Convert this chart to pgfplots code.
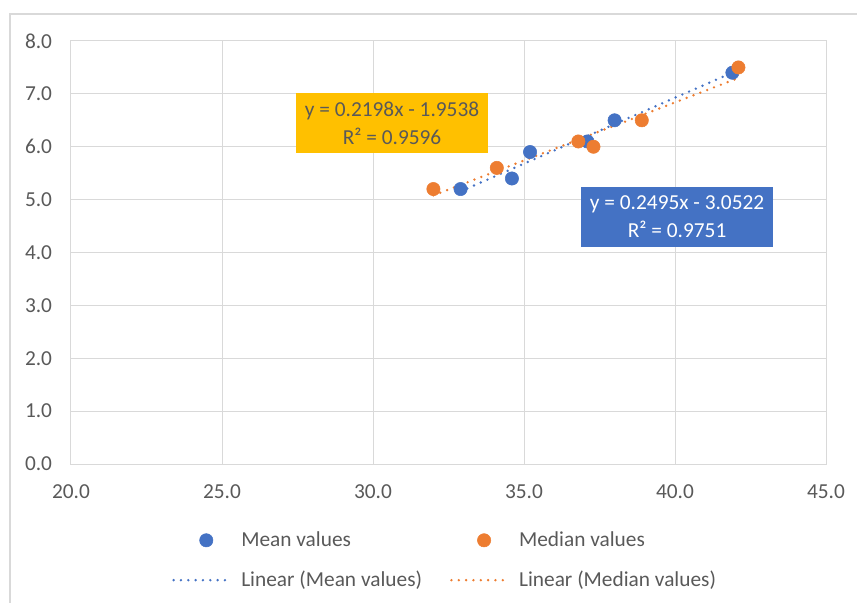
\documentclass[border=0pt]{standalone}
\usepackage{fontspec}
\setmainfont{Carlito}
\usepackage{pgfplots}
\usepackage{pgfplotstable}
\pgfplotsset{compat=1.18}
\definecolor{mblue}{HTML}{4472C4}
\definecolor{morange}{HTML}{ED7D31}
\definecolor{gridc}{HTML}{D9D9D9}
\definecolor{txt}{HTML}{595959}
\definecolor{boxy}{HTML}{FFC000}

\pgfplotsset{
  scatleg/.style={legend image code/.code={\draw[mark repeat=2,mark phase=2,##1] plot coordinates {(0pt,0pt) (25.5pt,0pt) (42.75pt,0pt)};}},
  lineleg/.style={legend image code/.code={\draw[##1] (1pt,0pt) -- (42.75pt,0pt);}},
  trend/.style={no marks, line width=2pt, line cap=round, dash pattern=on 0pt off 5.5pt},
}

\pgfplotstableread{
x y
32.9 5.2
34.6 5.4
35.2 5.9
37.1 6.1
38.0 6.5
41.9 7.4
}\meandata

\pgfplotstableread{
x y
32.0 5.2
34.1 5.6
36.8 6.1
37.3 6.0
38.9 6.5
42.1 7.5
}\mediandata

\begin{document}
\begin{tikzpicture}
\useasboundingbox (-53.25pt,-104.25pt) rectangle (589.5pt,348pt);
\draw[gridc, line width=1pt] (-45.75pt,-120pt) -- (-45.75pt,337.5pt) -- (600pt,337.5pt);
\begin{axis}[
  at={(0pt,0pt)}, anchor=south west,
  scale only axis, width=566.25pt, height=317.25pt,
  xmin=20, xmax=45, ymin=0, ymax=8,
  xtick={20,25,30,35,40,45},
  xticklabels={20.0,25.0,30.0,35.0,40.0,45.0},
  ytick={0,1,2,3,4,5,6,7,8},
  yticklabels={0.0,1.0,2.0,3.0,4.0,5.0,6.0,7.0,8.0},
  grid=major, major grid style={gridc, line width=0.75pt},
  axis line style={gridc, line width=0.75pt},
  major tick length=0pt,
  tick label style={font=\fontsize{16}{19}\selectfont, text=txt},
  yticklabel style={anchor=east, inner sep=0pt, xshift=-14pt},
  xticklabel style={anchor=north, inner sep=0pt, yshift=-15.5pt},
  legend columns=2,
  legend style={at={(0.1338,-0.228)}, anchor=west, draw=none, fill=none,
    inner sep=0pt, font=\fontsize{16}{19}\selectfont, text=txt,
    row sep=13pt,
    /tikz/every even column/.append style={column sep=19pt},
    /tikz/every odd column/.append style={column sep=6pt}},
  legend cell align=left,
]
\addplot[only marks, mark=*, mark size=5pt, mark options={draw=mblue, fill=mblue}, scatleg]
  table[x=x,y=y]{\meandata};
\addlegendentry{Mean values}
\addplot[only marks, mark=*, mark size=5pt, mark options={draw=morange, fill=morange}, scatleg]
  table[x=x,y=y]{\mediandata};
\addlegendentry{Median values}
\addplot[mblue, trend, lineleg]
  table[x=x, y={create col/linear regression={y=y}}]{\meandata};
\addlegendentry{Linear (Mean values)}
\addplot[morange, trend, lineleg]
  table[x=x, y={create col/linear regression={y=y}}]{\mediandata};
\addlegendentry{Linear (Median values)}

\node[fill=boxy, text=txt, align=center, minimum width=144pt, minimum height=45pt,
  font=\fontsize{16}{21}\selectfont] at (axis cs:30.63,6.45) {y = 0.2198x - 1.9538\\R² = 0.9596};
\node[fill=mblue, text=white, align=center, minimum width=144pt, minimum height=45pt,
  font=\fontsize{16}{21}\selectfont] at (axis cs:40.07,4.67) {y = 0.2495x - 3.0522\\R² = 0.9751};
\end{axis}
\end{tikzpicture}
\end{document}
